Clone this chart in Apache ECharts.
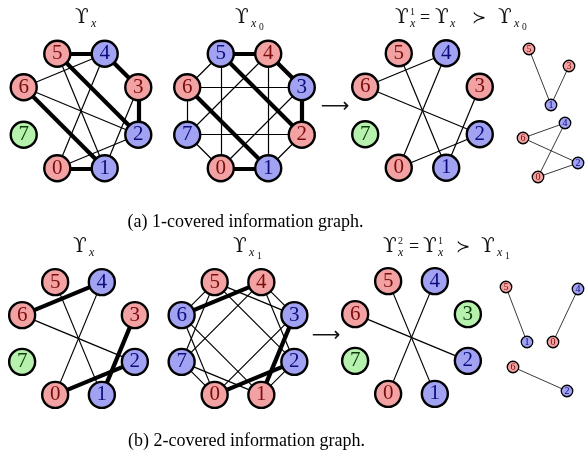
<!DOCTYPE html>
<html><head><meta charset="utf-8">
<script src="https://cdn.jsdelivr.net/npm/echarts@6/dist/echarts.min.js"></script>
<style>html,body{margin:0;padding:0;background:#fff}#c{width:587px;height:455px}</style>
</head><body><div id="c"></div>
<script>
// ---------------- data ----------------
// order in which the library places nodes around the octagon (circular layout)
const ringOrder = [2, 1, 0, 7, 6, 5, 4, 3];

// node classes per graph: r = red, b = blue, g = green
const classA1 = {0:'r',1:'b',2:'b',3:'r',4:'b',5:'r',6:'r',7:'g'};
const classA2 = {0:'r',1:'b',2:'r',3:'b',4:'r',5:'b',6:'r',7:'b'};
const classA3 = {0:'r',1:'b',2:'b',3:'r',4:'b',5:'r',6:'r',7:'g'};
const classB1 = {0:'r',1:'b',2:'b',3:'r',4:'b',5:'r',6:'r',7:'g'};
const classB2 = {0:'r',1:'r',2:'b',3:'b',4:'r',5:'r',6:'b',7:'b'};
const classB3 = {0:'r',1:'b',2:'b',3:'g',4:'b',5:'r',6:'r',7:'g'};

// edges: [source, target, covered?] (1 = thick / covered edge, 0 = thin)
const edgesA1 = [[5,4,1],[4,3,1],[3,2,1],[5,2,1],[6,1,1],[0,1,1],
                 [6,4,0],[6,2,0],[5,1,0],[4,0,0],[3,1,0],[0,2,0]];
const edgesA2 = [[5,4,1],[4,3,1],[3,2,1],[5,2,1],[6,1,1],[0,1,1],
                 [5,6,0],[6,7,0],[7,0,0],[2,1,0],[5,0,0],[4,1,0],[6,3,0],[7,2,0],[4,7,0],[3,0,0]];
const edgesA3 = [[6,4,0],[6,2,0],[5,1,0],[4,0,0],[3,1,0],[0,2,0]];
const edgesB1 = [[6,4,1],[3,1,1],[0,2,1],[5,1,0],[4,0,0],[6,2,0]];
const edgesB2 = [[6,4,1],[3,1,1],[0,2,1],
                 [5,6,0],[5,3,0],[5,7,0],[5,2,0],[4,3,0],[4,7,0],[4,2,0],
                 [0,6,0],[0,3,0],[0,7,0],[1,6,0],[1,7,0],[1,2,0]];
const edgesB3 = [[5,1,0],[4,0,0],[6,2,0]];

// decomposition (components) graphs on the right
const compNodesA = [[5,'r'],[3,'r'],[1,'b'],[4,'b'],[6,'r'],[2,'b'],[0,'r']];
const compEdgesA = [[5,1],[3,1],[6,4],[6,2],[4,0],[0,2]];
const compNodesB = [[5,'r'],[4,'b'],[1,'b'],[0,'r'],[6,'r'],[2,'b']];
const compEdgesB = [[5,1],[4,0],[6,2]];
// layout of the component drawings (node -> [x, y] in layout units)
const compLayoutA = {5:[529,49],3:[569,66],1:[551,105],4:[565,123],6:[523,138],2:[578,163],0:[538,177]};
const compLayoutB = {5:[506,287],4:[578,289],1:[527,342],0:[553,342],6:[513,367],2:[567,391]};

// ---------------- styling ----------------
const FILL = {r:'#F2A2A2', b:'#A2A2F2', g:'#B6F2AE'};
const INK  = {r:'#7A0C0C', b:'#0C0C7A', g:'#0C3A0C'};
const NUMFONT = 'Liberation Serif';

// each graph = an edge layer (invisible nodes) + a node layer drawn on top
function ringSeries(cls, edges, cx, cy, r) {
  const base = {
    type: 'graph', layout: 'circular', silent: true,
    left: cx - r, top: cy - r, width: 2 * r, height: 2 * r,
    symbol: 'circle', symbolSize: 26,
    lineStyle: {color: '#000', opacity: 1, curveness: 0},
    emphasis: {disabled: true}
  };
  const edgeLayer = Object.assign({}, base, {
    z: 2,
    itemStyle: {opacity: 0}, label: {show: false},
    data: ringOrder.map(n => ({name: String(n)})),
    links: edges.map(e => ({source: String(e[0]), target: String(e[1]),
      lineStyle: {width: e[2] ? 4.2 : 1.2}}))
  });
  const nodeLayer = Object.assign({}, base, {
    z: 3,
    itemStyle: {borderColor: '#000', borderWidth: 2.4},
    label: {show: true, position: 'inside', fontFamily: NUMFONT, fontSize: 21, formatter: '{b}'},
    data: ringOrder.map(n => ({name: String(n),
      itemStyle: {color: FILL[cls[n]]}, label: {color: INK[cls[n]]}})),
    links: []
  });
  return [edgeLayer, nodeLayer];
}

function compSeries(nodes, edges, layout) {
  const xs = nodes.map(n => layout[n[0]][0]), ys = nodes.map(n => layout[n[0]][1]);
  const x0 = Math.min(...xs), y0 = Math.min(...ys);
  const base = {
    type: 'graph', layout: 'none', silent: true,
    left: x0, top: y0, width: Math.max(...xs) - x0, height: Math.max(...ys) - y0,
    symbol: 'circle', symbolSize: 11.5,
    lineStyle: {color: '#222', opacity: 1, width: 0.9, curveness: 0},
    emphasis: {disabled: true}
  };
  const edgeLayer = Object.assign({}, base, {
    z: 2, itemStyle: {opacity: 0}, label: {show: false},
    data: nodes.map(n => ({name: String(n[0]), x: layout[n[0]][0], y: layout[n[0]][1]})),
    links: edges.map(e => ({source: String(e[0]), target: String(e[1])}))
  });
  const nodeLayer = Object.assign({}, base, {
    z: 3,
    itemStyle: {borderColor: '#000', borderWidth: 1.3},
    label: {show: true, position: 'inside', fontFamily: NUMFONT, fontSize: 10, formatter: '{b}'},
    data: nodes.map(n => ({name: String(n[0]), x: layout[n[0]][0], y: layout[n[0]][1],
      itemStyle: {color: FILL[n[1]]}, label: {color: INK[n[1]]}})),
    links: []
  });
  return [edgeLayer, nodeLayer];
}

// ---------------- text ----------------
function T(x, y, s, size, family, opts) {
  opts = opts || {};
  return {type: 'text', x: x, y: y, silent: true,
    style: {text: s, font: (opts.italic ? 'italic ' : '') + size + 'px "' + family + '"',
      fill: opts.fill || '#111', align: opts.align || 'left', verticalAlign: 'middle'}};
}
const UPS = 'ϒ';
function ups(x, y) { return T(x, y, UPS, 20, 'DejaVu Serif'); }
function subx(x, y) { return T(x, y + 6, 'x', 12, 'Liberation Serif', {italic: true}); }
function subsub(x, y, s) { return T(x, y + 9.5, s, 9.5, 'Liberation Serif'); }
function sup(x, y, s) { return T(x, y - 5.5, s, 10, 'Liberation Serif'); }
function eq(x, y) { return T(x, y + 1, '=', 18, 'Liberation Serif'); }
function succ(x, y) { return T(x, y + 1, '≻', 17, 'DejaVu Sans'); }

function titleSet(dy, a) {
  const y = 17.5 + dy;
  const els = [];
  els.push(ups(a.l, y), subx(a.l + 16, y));                                   // left graph
  els.push(ups(a.m, y), subx(a.m + 16, y), subsub(a.m + 24, y, a.midSub));    // middle graph
  const r = a.r, o = a.off;                                                    // right graph
  els.push(ups(r, y), sup(r + 15, y, a.sup1), subx(r + 15, y));
  els.push(eq(r + o.eq, y));
  els.push(ups(r + 40, y));
  if (a.sup2) els.push(sup(r + 55, y, a.sup2));
  els.push(subx(r + 55, y));
  els.push(succ(r + o.succ, y));
  els.push(ups(r + o.u3, y), subx(r + o.u3 + 16, y), subsub(r + o.u3 + 24, y, a.midSub));
  return els;
}

const graphics = [].concat(
  titleSet(0,   {l: 75, m: 235, r: 395, midSub: '0', sup1: '1', sup2: null, off: {eq: 25, succ: 77, u3: 103}}),
  titleSet(229, {l: 73, m: 233, r: 383, midSub: '1', sup1: '2', sup2: '1', off: {eq: 26, succ: 73, u3: 98}}),
  [
    T(335, 107, '⟶', 20, 'DejaVu Sans', {align: 'center'}),
    T(326, 336, '⟶', 20, 'DejaVu Sans', {align: 'center'}),
    T(245.5, 222, '(a) 1-covered information graph.', 18, 'Liberation Serif', {align: 'center', fill: '#000'}),
    T(246.5, 441, '(b) 2-covered information graph.', 18, 'Liberation Serif', {align: 'center', fill: '#000'})
  ]
);

const chart = echarts.init(document.getElementById('c'), null, {renderer: 'canvas'});
chart.setOption({
  animation: false,
  backgroundColor: '#fff',
  graphic: graphics,
  series: [].concat(
    ringSeries(classA1, edgesA1, 81, 111, 62),
    ringSeries(classA2, edgesA2, 244.5, 111, 62),
    ringSeries(classA3, edgesA3, 422.5, 110.5, 62),
    ringSeries(classB1, edgesB1, 78.5, 338.5, 61),
    ringSeries(classB2, edgesB2, 238, 338.5, 61),
    ringSeries(classB3, edgesB3, 411.5, 337.5, 61),
    compSeries(compNodesA, compEdgesA, compLayoutA),
    compSeries(compNodesB, compEdgesB, compLayoutB)
  )
});
</script></body></html>
